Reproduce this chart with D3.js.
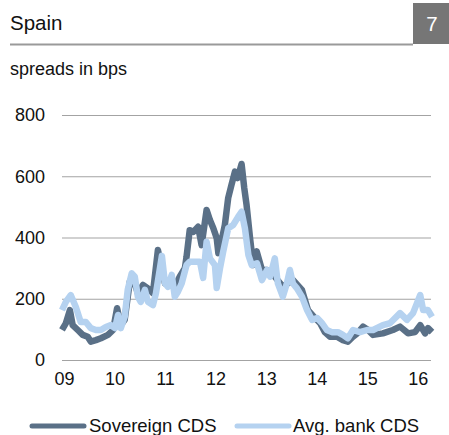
<!DOCTYPE html>
<html>
<head>
<meta charset="utf-8">
<script src="https://cdn.jsdelivr.net/npm/d3@7"></script>
<style>
  html, body { margin: 0; padding: 0; background: #fff; }
  svg { display: block; font-family: "Liberation Sans", Arial, sans-serif; }
</style>
</head>
<body>
<svg id="chart" width="449" height="435"></svg>
<script>
// ---- data ----
const title = "Spain";
const chartNumber = "7";
const subtitle = "spreads in bps";
const yTicks = [0, 200, 400, 600, 800];
const xTickYears = [2009, 2010, 2011, 2012, 2013, 2014, 2015, 2016];
const seriesNames = ["Sovereign CDS", "Avg. bank CDS"];

const sovDates = ["2009-01-01","2009-01-29","2009-02-27","2009-03-19","2009-04-25","2009-05-31","2009-07-06","2009-07-28","2009-09-03","2009-10-09","2009-11-29",
  "2010-01-05","2010-02-03","2010-03-02","2010-03-30","2010-05-06","2010-05-27","2010-07-03","2010-08-09","2010-09-14","2010-10-20","2010-11-25","2010-12-17",
  "2011-01-15","2011-02-21","2011-03-27","2011-05-02","2011-06-08","2011-06-20","2011-07-13","2011-08-07","2011-09-12","2011-10-07","2011-11-12","2011-12-06","2011-12-30",
  "2012-01-24","2012-02-05","2012-02-28","2012-03-23","2012-04-16","2012-05-10","2012-06-04","2012-06-23","2012-07-22","2012-08-10","2012-08-27","2012-09-21","2012-10-14","2012-11-08","2012-12-16",
  "2013-01-22","2013-03-19","2013-05-16","2013-07-28","2013-10-01","2013-11-14",
  "2014-01-04","2014-02-10","2014-03-16","2014-04-21","2014-06-11","2014-07-24","2014-08-29","2014-10-05","2014-11-04","2014-12-17",
  "2015-01-22","2015-02-27","2015-05-09","2015-07-20","2015-09-10","2015-11-07","2015-12-27",
  "2016-02-03","2016-03-09","2016-03-30","2016-04-28"];
const sovValues = [98,120,163,114,98,82,76,60,65,71,82,
  98,169,114,131,256,272,218,245,234,218,359,316,
  250,261,239,272,300,337,424,418,435,375,490,457,431,
  398,349,389,441,529,572,615,594,640,562,506,398,310,355,294,
  294,272,240,261,229,163,
  137,120,91,76,76,65,60,76,87,109,
  98,82,87,98,109,87,91,
  114,87,104,91];

const bankDates = ["2009-01-01","2009-01-29","2009-03-05","2009-04-11","2009-05-16","2009-06-22","2009-07-28","2009-09-03","2009-10-09","2009-11-14","2009-12-20",
  "2010-01-19","2010-02-10","2010-03-02","2010-03-30","2010-04-21","2010-05-20","2010-06-11","2010-07-03","2010-07-24","2010-08-23","2010-09-14","2010-10-20","2010-11-11","2010-12-24",
  "2011-01-15","2011-02-06","2011-03-05","2011-03-27","2011-04-18","2011-05-16","2011-06-20","2011-07-13","2011-08-19","2011-09-25","2011-10-18","2011-11-12","2011-12-06",
  "2012-01-11","2012-01-24","2012-02-17","2012-03-11","2012-04-16","2012-05-22","2012-06-28","2012-07-22","2012-08-15","2012-09-09","2012-10-03","2012-11-10","2012-12-16",
  "2013-01-22","2013-02-13","2013-03-19","2013-04-10","2013-05-16","2013-06-14","2013-07-06","2013-07-28","2013-08-26","2013-10-01","2013-11-07","2013-12-13",
  "2014-01-19","2014-02-24","2014-03-30","2014-05-05","2014-06-18","2014-07-24","2014-08-29","2014-10-05","2014-11-25",
  "2015-01-15","2015-02-27","2015-05-09","2015-06-29","2015-09-10","2015-10-30","2015-12-13",
  "2016-02-03","2016-02-24","2016-03-30","2016-04-28"];
const bankValues = [163,190,212,173,124,124,104,98,98,108,114,
  104,147,104,141,229,283,272,207,190,229,190,179,218,340,
  251,239,278,207,222,250,310,321,321,321,268,386,332,
  310,235,300,354,430,441,468,484,430,343,310,316,261,
  294,272,332,250,207,250,294,250,234,207,163,131,
  137,120,98,91,91,82,71,98,91,
  98,98,114,120,153,131,153,
  212,163,163,141];

// ---- drawing ----
const svg = d3.select("#chart");
const colors = ["#5a7087", "#b5d2f0"];
const parse = d3.timeParse("%Y-%m-%d");

const x = d3.scaleTime()
  .domain([parse("2009-01-01"), parse("2016-04-28")])
  .range([62, 432]);
const y = d3.scaleLinear().domain([0, 800]).range([360, 115]);

// header
svg.append("text").attr("x", 10).attr("y", 30)
  .attr("font-size", 20.5).attr("fill", "#111").text(title);
svg.append("rect").attr("x", 413).attr("y", 3).attr("width", 36).attr("height", 41)
  .attr("fill", "#767676");
svg.append("text").attr("x", 432).attr("y", 31).attr("text-anchor", "middle")
  .attr("font-size", 20.5).attr("fill", "#fff").text(chartNumber);
svg.append("line").attr("x1", 10).attr("x2", 413).attr("y1", 44.5).attr("y2", 44.5)
  .attr("stroke", "#9a9a9a").attr("stroke-width", 2);
svg.append("text").attr("x", 10).attr("y", 75)
  .attr("font-size", 18).attr("fill", "#111").text(subtitle);

// y axis: gridlines + labels
const yAxis = d3.axisLeft(y).tickValues(yTicks).tickSize(-(431 - 62)).tickPadding(17);
const gy = svg.append("g").attr("transform", "translate(62,0)").call(yAxis);
gy.select(".domain").remove();
gy.selectAll(".tick line").attr("stroke", "#a3a3a3").attr("stroke-width", 1.2);
gy.selectAll(".tick text").attr("font-size", 18).attr("fill", "#111")
  .attr("font-family", "Liberation Sans, Arial, sans-serif");

// x axis labels
const xAxis = d3.axisBottom(x)
  .tickValues(xTickYears.map(yr => new Date(yr, 0, 1)))
  .tickFormat(d3.timeFormat("%y")).tickSize(0).tickPadding(12);
const gx = svg.append("g").attr("transform", "translate(2,360)").call(xAxis);
gx.select(".domain").remove();
gx.selectAll(".tick text").attr("font-size", 18).attr("fill", "#111")
  .attr("font-family", "Liberation Sans, Arial, sans-serif");

// lines
const lineGen = d3.line().x(d => x(d[0])).y(d => y(d[1])).curve(d3.curveLinear);
const series = [
  sovDates.map((d, i) => [parse(d), sovValues[i]]),
  bankDates.map((d, i) => [parse(d), bankValues[i]])
];
series.forEach((s, i) => {
  svg.append("path").datum(s).attr("d", lineGen)
    .attr("fill", "none").attr("stroke", colors[i]).attr("stroke-width", 6.5)
    .attr("stroke-linejoin", "round").attr("stroke-linecap", "butt");
});

// legend
const legendItems = [{x1: 32, x2: 84, tx: 89}, {x1: 237, x2: 289, tx: 293}];
legendItems.forEach((l, i) => {
  svg.append("line").attr("x1", l.x1).attr("x2", l.x2).attr("y1", 426).attr("y2", 426)
    .attr("stroke", colors[i]).attr("stroke-width", 5).attr("stroke-linecap", "round");
  svg.append("text").attr("x", l.tx).attr("y", 432).attr("font-size", 18.5)
    .attr("fill", "#111").text(seriesNames[i]);
});
</script>
</body>
</html>
